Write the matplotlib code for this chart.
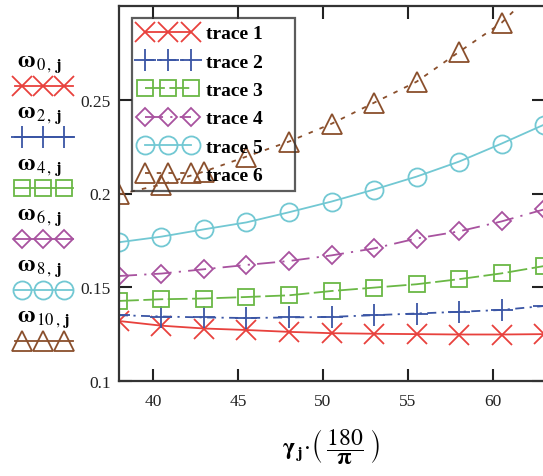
import numpy as np
import matplotlib
matplotlib.use("Agg")
import matplotlib.pyplot as plt
from matplotlib.lines import Line2D

plt.rcParams['font.family'] = ['Liberation Serif', 'DejaVu Serif']
plt.rcParams['mathtext.fontset'] = 'stix'

# gamma_j * 180/pi (degrees)
gamma_deg = [38.0, 40.5, 43.0, 45.5, 48.0, 50.5, 53.0, 55.5, 58.0, 60.5, 63.0]

trace1 = [0.1320, 0.1295, 0.1280, 0.1272, 0.1262, 0.1255, 0.1252, 0.1250, 0.1248, 0.1248, 0.1250]
trace2 = [0.1351, 0.1344, 0.1339, 0.1336, 0.1339, 0.1342, 0.1351, 0.1360, 0.1369, 0.1379, 0.1400]
trace3 = [0.1427, 0.1436, 0.1440, 0.1448, 0.1457, 0.1480, 0.1498, 0.1516, 0.1543, 0.1574, 0.1613]
trace4 = [0.1560, 0.1573, 0.1596, 0.1619, 0.1640, 0.1670, 0.1707, 0.1760, 0.1798, 0.1851, 0.1915]
trace5 = [0.1740, 0.1770, 0.1809, 0.1846, 0.1900, 0.1957, 0.2021, 0.2090, 0.2170, 0.2266, 0.2367]
trace6 = [0.1995, 0.2048, 0.2117, 0.2197, 0.2277, 0.2372, 0.2484, 0.2596, 0.2755, 0.2910, 0.3130]

series = [trace1, trace2, trace3, trace4, trace5, trace6]
names = ['trace 1', 'trace 2', 'trace 3', 'trace 4', 'trace 5', 'trace 6']
omega_idx = ['0', '2', '4', '6', '8', '10']

styles = [
    dict(color='#e8413d', marker='x', ls='-', ms=14),
    dict(color='#3a55a5', marker='+', ls=(0, (5, 3, 1.2, 3)), ms=16),
    dict(color='#6ab845', marker='s', ls=(0, (11, 2.5)), ms=11),
    dict(color='#a8529f', marker='D', ls=(0, (10, 4, 1.2, 4)), ms=9.5),
    dict(color='#72c8d3', marker='o', ls='-', ms=13),
    dict(color='#8a4f2c', marker='^', ls=(0, (2.5, 4)), ms=14),
]

fig = plt.figure(figsize=(5.43, 4.77), dpi=100)
ax = fig.add_axes([119 / 543, 1 - 382 / 477, 425 / 543, 375 / 477])

handles = []
for y, name, st in zip(series, names, styles):
    h, = ax.plot(gamma_deg, y, color=st['color'], ls=st['ls'], lw=1.3,
                 marker=st['marker'], ms=st['ms'], mfc='none', mec=st['color'],
                 mew=1.3, label=name)
    handles.append(h)

ax.set_xlim(38, 63)
ax.set_ylim(0.1, 0.3)
ax.set_xticks([40, 45, 50, 55, 60])
ax.set_yticks([0.1, 0.15, 0.2, 0.25])
ax.set_yticklabels(['0.1', '0.15', '0.2', '0.25'])
ax.tick_params(direction='in', length=9, width=1.5, top=True, right=True,
               labelsize=12.5, colors='#222222')
ax.tick_params(axis='x', pad=9)
ax.tick_params(axis='y', pad=6)
for sp in ax.spines.values():
    sp.set_linewidth(1.6)
    sp.set_color('#333333')

ax.set_xlabel(r'$\mathbf{\gamma}_{\,\mathbf{j}}\!\cdot\!\left(\;\dfrac{180}{\mathbf{\pi}}\;\right)$',
              fontsize=17, labelpad=12)

leg = ax.legend(handles=handles, loc='upper left', mode='expand',
                bbox_to_anchor=(13 / 425, 0.0, 163 / 425, (382 - 19) / 375),
                numpoints=3, handlelength=3.0, handletextpad=0.45, labelspacing=0.55,
                borderpad=0.35, borderaxespad=0, fancybox=False,
                edgecolor='#333333', prop={'family': 'Liberation Serif', 'weight': 'bold', 'size': 14})
leg.get_frame().set_linewidth(1.6)
leg.get_frame().set_facecolor('none')

# left side key: label above a sample of each trace
for i, (k, st) in enumerate(zip(omega_idx, styles)):
    yy = 1 - (87 + 51 * i) / 477
    lab = r'$\mathbf{\omega}_{\,' + k + r'\,,\,\mathbf{j}}$'
    fig.text(17 / 543, yy + 22 / 477, lab, fontsize=17, va='center', ha='left')
    fig.add_artist(Line2D([15 / 543, 73 / 543], [yy, yy], transform=fig.transFigure,
                          color=st['color'], lw=1.3, ls='-'))
    fig.add_artist(Line2D([22 / 543, 43 / 543, 64 / 543], [yy] * 3, transform=fig.transFigure,
                          color=st['color'], lw=0, marker=st['marker'], ms=st['ms'],
                          mfc='none', mec=st['color'], mew=1.3))

fig.savefig('out.png', dpi=100)
